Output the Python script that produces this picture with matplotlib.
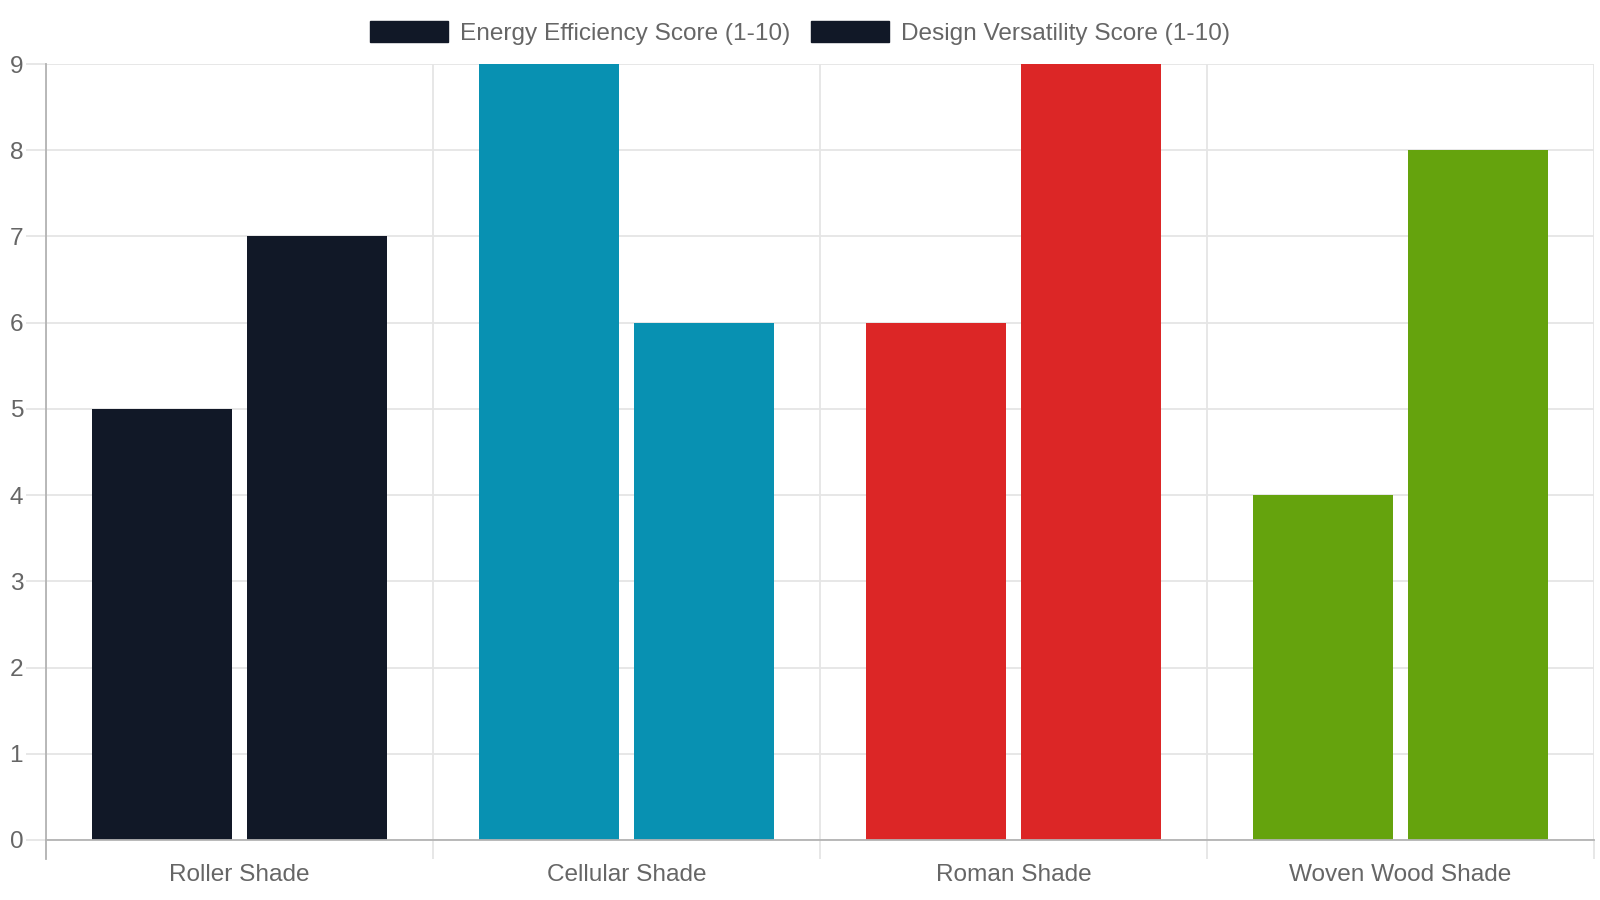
import matplotlib
matplotlib.use("Agg")
import matplotlib.pyplot as plt
from matplotlib.patches import Patch
import numpy as np

categories = ["Roller Shade", "Cellular Shade", "Roman Shade", "Woven Wood Shade"]
energy_efficiency = [5, 9, 6, 4]
design_versatility = [7, 6, 9, 8]
bar_colors = ["#111827", "#0891b2", "#dc2626", "#65a30d"]
series_names = ["Energy Efficiency Score (1-10)", "Design Versatility Score (1-10)"]
legend_color = "#111827"

plt.rcParams['font.family'] = ['Liberation Sans', 'DejaVu Sans']
TEXT = "#666666"
GRID = "#e5e5e5"
AXIS = "#b3b3b3"
FS = 17.6

fig = plt.figure(figsize=(16, 9), dpi=100)
ax = fig.add_axes([46/1600, 1-840/900, (1594-46)/1600, (840-64)/900])

x = np.arange(len(categories))
slot = 0.4
w = slot * 0.9
ax.bar(x - slot/2, energy_efficiency, width=w, color=bar_colors, zorder=3)
ax.bar(x + slot/2, design_versatility, width=w, color=bar_colors, zorder=3)

ax.set_xlim(-0.5, len(categories) - 0.5)
ax.set_ylim(0, 9)
ax.set_yticks(range(0, 10))
ax.set_xticks(x)
ax.set_xticklabels(categories)
ax.set_xticks(np.arange(-0.5, len(categories), 1.0), minor=True)

ax.grid(axis='y', which='major', color=GRID, linewidth=1.3, zorder=0)
ax.grid(axis='x', which='minor', color=GRID, linewidth=1.3, zorder=0)
ax.grid(axis='x', which='major', visible=False)

ax.tick_params(axis='y', which='major', length=14.4, width=1.3, color=GRID,
               labelcolor=TEXT, labelsize=FS, pad=2)
ax.tick_params(axis='x', which='major', length=0, labelcolor=TEXT, labelsize=FS, pad=17.5)
ax.tick_params(axis='x', which='minor', length=13.7, width=1.3, color=GRID)

for s in ['top', 'right']:
    ax.spines[s].set_visible(False)
ax.spines['left'].set_color(AXIS)
ax.spines['bottom'].set_color(AXIS)
ax.spines['left'].set_linewidth(1.3)
ax.spines['bottom'].set_linewidth(1.3)
ax.spines['left'].set_zorder(4)
ax.spines['bottom'].set_zorder(4)
# left spine extends below zero through tick region
ax.plot([-0.5, -0.5], [0, -19/776*9], color=AXIS, lw=1.3, clip_on=False, zorder=4)

handles = [Patch(facecolor=legend_color, edgecolor=legend_color, label=n) for n in series_names]
fig.legend(handles=handles, loc='center', bbox_to_anchor=(0.5, 1-33/900), ncol=2,
           frameon=False, fontsize=FS, labelcolor=TEXT, handlelength=3.2,
           handleheight=0.95, handletextpad=0.5, columnspacing=0.85)

fig.savefig("out.png", dpi=100, facecolor='white')
